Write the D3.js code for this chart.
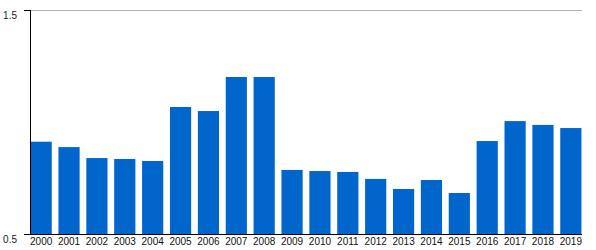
<!DOCTYPE html>
<html>
<head>
<meta charset="utf-8">
<script src="https://cdn.jsdelivr.net/npm/d3@7"></script>
<style>
  body { margin: 0; background: #fff; }
  text { font-family: "Liberation Sans", Arial, sans-serif; }
</style>
</head>
<body>
<svg id="chart" width="596" height="250"></svg>
<script>
const years = ["2000","2001","2002","2003","2004","2005","2006","2007","2008","2009",
               "2010","2011","2012","2013","2014","2015","2016","2017","2018","2019"];
const values = [0.912, 0.888, 0.839, 0.835, 0.826, 1.067, 1.049, 1.201, 1.201, 0.786,
                0.781, 0.777, 0.746, 0.701, 0.741, 0.683, 0.915, 1.004, 0.987, 0.973];
const yTicks = [0.5, 1.5];

const svg = d3.select("#chart");
const plotLeft = 30, plotRight = 582, plotTop = 10, plotBottom = 234;

const x = d3.scaleBand()
    .domain(years)
    .range([plotLeft, plotRight])
    .paddingInner(0.24)
    .paddingOuter(0.02);

const y = d3.scaleLinear()
    .domain([0.5, 1.5])
    .range([plotBottom, plotTop]);

// grid line at top value
svg.append("line")
    .attr("x1", plotLeft).attr("x2", plotRight)
    .attr("y1", y(1.5) + 0.5).attr("y2", y(1.5) + 0.5)
    .attr("stroke", "#b4b4b4")
    .attr("stroke-width", 1);

svg.selectAll("rect.bar")
    .data(values)
    .join("rect")
    .attr("class", "bar")
    .attr("x", (d, i) => x(years[i]))
    .attr("width", x.bandwidth())
    .attr("y", d => y(d))
    .attr("height", d => y(0.5) - y(d))
    .attr("fill", "#0066cc");

// y axis
const yAxis = svg.append("g")
    .attr("transform", `translate(${plotLeft},0)`)
    .call(d3.axisLeft(y).tickValues(yTicks).tickFormat(d3.format(".1f")).tickSize(6).tickPadding(7));
yAxis.select(".domain").attr("stroke", "#000").attr("d", `M0.5,${plotTop}V${plotBottom}`);
yAxis.selectAll(".tick text")
    .style("font-size", "10px")
    .attr("fill", "#222")
    .attr("dy", "0.85em");

// x axis
const xAxis = svg.append("g")
    .attr("transform", `translate(0,${plotBottom})`)
    .call(d3.axisBottom(x).tickSize(0).tickPadding(4));
xAxis.select(".domain").attr("stroke", "#000").attr("d", `M${plotLeft},0.5H${plotRight}`);
xAxis.selectAll(".tick text")
    .style("font-size", "10px")
    .attr("fill", "#111");
</script>
</body>
</html>
